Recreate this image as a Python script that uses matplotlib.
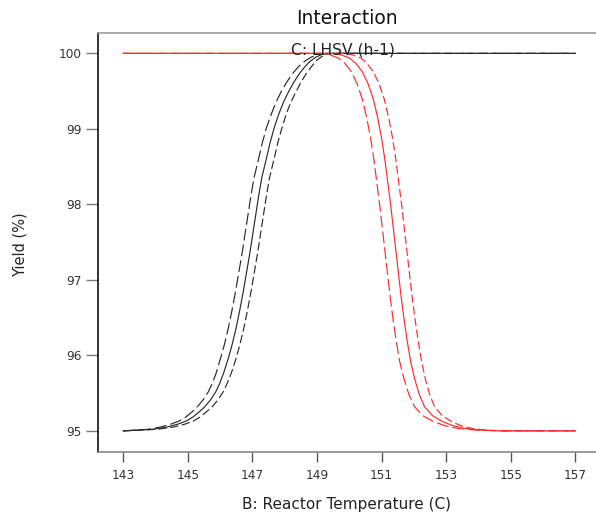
import matplotlib.pyplot as plt

# Black set: yield levels and the temperature where each line passes them
black_y = [95.00, 95.02, 95.05, 95.09, 95.13, 95.18, 95.25, 95.33, 95.42, 95.52,
           95.64, 95.78, 95.94, 96.12, 96.35, 96.60, 96.85, 97.10, 97.35, 97.60,
           97.85, 98.10, 98.35, 98.60, 98.82, 99.02, 99.20, 99.36, 99.50, 99.63,
           99.74, 99.83, 99.90, 99.95, 99.99, 100.0, 100.0]
black_mid_x = [143.0, 143.9, 144.35, 144.7, 144.95, 145.15, 145.35, 145.55, 145.72, 145.87,
               146.0, 146.12, 146.24, 146.36, 146.49, 146.61, 146.72, 146.82, 146.92, 147.01,
               147.1, 147.19, 147.29, 147.43, 147.55, 147.68, 147.82, 147.97, 148.13, 148.3,
               148.47, 148.64, 148.8, 148.97, 149.17, 149.4, 157.0]
black_hi_x = [143.0, 143.75, 144.15, 144.48, 144.73, 144.93, 145.13, 145.32, 145.49, 145.64,
              145.77, 145.89, 146.0, 146.12, 146.25, 146.37, 146.48, 146.58, 146.68, 146.77,
              146.86, 146.95, 147.05, 147.19, 147.31, 147.44, 147.59, 147.74, 147.9, 148.08,
              148.26, 148.44, 148.63, 148.82, 149.05, 149.3, 157.0]
black_lo_x = [143.0, 144.05, 144.55, 144.92, 145.17, 145.37, 145.57, 145.78, 145.95, 146.1,
              146.23, 146.36, 146.48, 146.6, 146.73, 146.85, 146.96, 147.06, 147.16, 147.25,
              147.34, 147.43, 147.53, 147.67, 147.79, 147.92, 148.05, 148.2, 148.36, 148.52,
              148.68, 148.84, 148.97, 149.12, 149.29, 149.5, 157.0]

# Red set
red_y = [100.0, 100.0, 99.98, 99.94, 99.87, 99.76, 99.60, 99.40, 99.15, 98.88,
         98.60, 98.30, 98.00, 97.70, 97.40, 97.10, 96.80, 96.50, 96.20, 95.92,
         95.68, 95.48, 95.32, 95.20, 95.12, 95.07, 95.03, 95.01, 95.0, 95.0]
red_mid_x = [143.0, 149.5, 149.75, 150.0, 150.2, 150.4, 150.58, 150.74, 150.88, 151.0,
             151.1, 151.19, 151.28, 151.36, 151.44, 151.52, 151.6, 151.69, 151.79, 151.9,
             152.03, 152.17, 152.33, 152.58, 152.9, 153.2, 153.6, 154.1, 154.7, 157.0]
red_lo_x = [143.0, 149.15, 149.4, 149.65, 149.86, 150.06, 150.24, 150.4, 150.54, 150.66,
            150.76, 150.85, 150.94, 151.02, 151.1, 151.18, 151.26, 151.35, 151.45, 151.56,
            151.7, 151.85, 152.02, 152.28, 152.62, 152.95, 153.38, 153.95, 154.6, 157.0]
red_hi_x = [143.0, 149.85, 150.1, 150.35, 150.54, 150.74, 150.92, 151.08, 151.22, 151.34,
            151.44, 151.53, 151.62, 151.7, 151.78, 151.86, 151.94, 152.03, 152.13, 152.24,
            152.36, 152.49, 152.64, 152.88, 153.18, 153.45, 153.82, 154.25, 154.8, 157.0]

x_ticks = [143, 145, 147, 149, 151, 153, 155, 157]
y_ticks = [95, 96, 97, 98, 99, 100]

plt.rcParams['font.family'] = ['DejaVu Sans']

fig = plt.figure(figsize=(5.96, 5.18), dpi=100)
ax = fig.add_axes([98 / 596, 66 / 518, 1 - 98 / 596, 419 / 518])

black = '#2a2a2a'
red = '#ff2a2a'
lw = 0.85

ax.plot(black_mid_x, black_y, color=black, lw=lw)
ax.plot(black_hi_x, black_y, color=black, lw=lw, dashes=(10, 3.5))
ax.plot(black_lo_x, black_y, color=black, lw=lw, dashes=(7, 3))
ax.plot(red_mid_x, red_y, color=red, lw=lw)
ax.plot(red_lo_x, red_y, color=red, lw=lw, dashes=(10, 3.5))
ax.plot(red_hi_x, red_y, color=red, lw=lw, dashes=(7, 3))

ax.set_xlim(142.22, 157.64)
ax.set_ylim(94.72, 100.27)
ax.set_xticks(x_ticks)
ax.set_yticks(y_ticks)
ax.tick_params(axis='y', direction='out', length=8.5, width=1, color='#777777',
               pad=3.5, labelsize=8.7, labelcolor='#333333')
ax.tick_params(axis='x', direction='out', length=7.5, width=1, color='#555555',
               pad=5, labelsize=8.7, labelcolor='#333333')

ax.spines['right'].set_visible(False)
ax.spines['left'].set_color('#111111')
ax.spines['top'].set_color('#999999')
ax.spines['bottom'].set_color('#888888')
for s in ['left', 'top', 'bottom']:
    ax.spines[s].set_linewidth(1.2)

fig.text(347 / 596, 1 - 19 / 518, 'Interaction', ha='center', va='center',
         fontsize=13.5, color='#111111')
fig.text(343 / 596, 1 - 50 / 518, 'C: LHSV (h-1)', ha='center', va='center',
         fontsize=11.2, color='#222222', zorder=5)
fig.text(347 / 596, 1 - 505 / 518, 'B: Reactor Temperature (C)', ha='center', va='center',
         fontsize=11, color='#222222')
fig.text(20 / 596, 1 - 245 / 518, 'Yield (%)', ha='center', va='center',
         rotation=90, fontsize=10.5, color='#222222')

fig.savefig('out.png', dpi=100)
